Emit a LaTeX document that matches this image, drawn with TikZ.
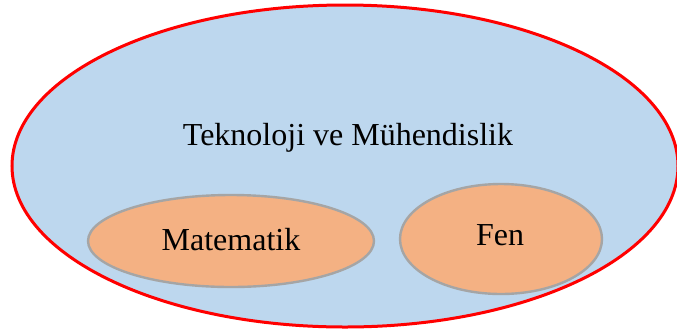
\documentclass[tikz,border=0pt]{standalone}
\usepackage{fontspec}
\setmainfont{Liberation Serif}
\usetikzlibrary{shapes.geometric}
\definecolor{outerfill}{RGB}{189,215,238}
\definecolor{innerfill}{RGB}{244,177,131}
\definecolor{innerline}{RGB}{165,165,165}
\definecolor{outerline}{RGB}{255,0,0}
\begin{document}
\begin{tikzpicture}[x=1pt,y=-1pt,
  outerset/.style={ellipse, draw=outerline, fill=outerfill, line width=3pt, inner sep=0pt},
  innerset/.style={ellipse, draw=innerline, fill=innerfill, line width=2.4pt, inner sep=0pt},
  setlabel/.style={anchor=base, inner sep=0pt, font=\fontsize{32}{36}\selectfont, text=black}]
  \useasboundingbox (0,0) rectangle (677,333);
  % outer set
  \node[outerset, minimum width=666pt, minimum height=322pt] (tm) at (345,166) {};
  \node[setlabel] (tmlabel) at (348,145) {Teknoloji ve Mühendislik};
  % inner sets
  \node[innerset, minimum width=286pt, minimum height=92pt] (mat) at (231,241) {};
  \node[setlabel] (matlabel) at (231,250) {Matematik};
  \node[innerset, minimum width=202pt, minimum height=110pt] (fen) at (501,239) {};
  \node[setlabel] (fenlabel) at (500,245) {Fen};
\end{tikzpicture}
\end{document}
